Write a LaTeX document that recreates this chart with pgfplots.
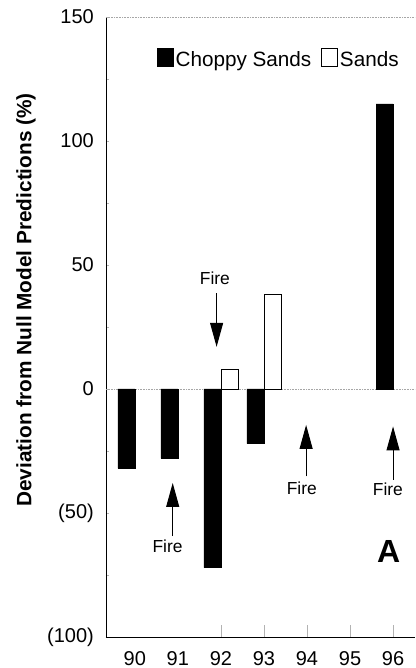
\documentclass[border=0pt]{standalone}
\usepackage{fontspec}
\setmainfont{Liberation Sans}
\usepackage{pgfplots}
\pgfplotsset{compat=1.18}
\usetikzlibrary{arrows.meta}
\begin{document}
\begin{tikzpicture}
\begin{axis}[
  at={(0,0)}, anchor=south west,
  scale only axis, width=309pt, height=620pt,
  xmin=89.33, xmax=96.51, ymin=-100, ymax=150,
  axis x line*=bottom, axis y line*=left,
  axis line style={line width=0.9pt, black},
  xtick={92,93,94,95,96}, xticklabels={92,93,94,95,96},
  extra x ticks={90,91}, extra x tick labels={90,91},
  extra x tick style={/pgfplots/major tick length=0pt, tick style={draw=none}},
  ytick={-100,-50,0,50,100,150}, yticklabels={(100),(50),0,50,100,150},
  minor ytick={-75,-25,25,75,125},
  tick align=inside,
  xtick style={gray!60, line width=0.7pt, /pgfplots/major tick length=12pt},
  ytick style={gray!60, line width=0.5pt, /pgfplots/major tick length=3pt, /pgfplots/minor tick length=3pt},
  /pgf/number format/assume math mode=true,
  tick label style={font=\fontsize{20}{24}\selectfont},
  xticklabel style={inner sep=0pt, anchor=north, yshift=-14pt},
  yticklabel style={inner sep=0pt, anchor=east, xshift=-12pt},
  ylabel={Deviation from Null Model Predictions (\%)},
  every axis y label/.style={at={(rel axis cs:0,0.5435)}, xshift=-80pt, rotate=90, anchor=center, font=\bfseries\fontsize{20.8}{24}\selectfont},
  legend columns=2,
  legend style={draw=none, fill=none, at={(rel axis cs:0.165,0.932)}, anchor=west, inner sep=0pt,
    font=\fontsize{20.7}{24}\selectfont,
    /tikz/every even column/.append style={column sep=8pt}},
]
\draw[gray!70, densely dotted, line width=0.6pt] (axis cs:89.33,0) -- (axis cs:96.51,0);
\draw[gray!70, densely dotted, line width=0.6pt] (rel axis cs:0,1) -- (rel axis cs:1,1);
\addplot[ybar, bar width=17pt, bar shift=-8.5pt, fill=black, draw=black,
  legend image code/.code={\draw[fill=black, draw=black] (0pt,-7pt) rectangle (16pt,11pt);}]
  coordinates {(90,-32) (91,-28) (92,-72) (93,-22) (96,115)};
\addlegendentry{Choppy Sands}
\addplot[ybar, bar width=17pt, bar shift=8.5pt, fill=white, draw=black, line width=0.6pt,
  legend image code/.code={\draw[fill=white, draw=black, line width=0.6pt] (0pt,-7pt) rectangle (16pt,11pt);}]
  coordinates {(92,8) (93,38)};
\addlegendentry{Sands}
\draw[line width=1pt, -{Triangle[width=13pt,length=24pt]}] (axis cs:91.9,38.7) -- (axis cs:91.9,17.0);
\draw[line width=1pt, -{Triangle[width=13pt,length=24pt]}] (axis cs:90.88,-59.3) -- (axis cs:90.88,-37.9);
\draw[line width=1pt, -{Triangle[width=13pt,length=24pt]}] (axis cs:93.98,-35.2) -- (axis cs:93.98,-14.5);
\draw[line width=1pt, -{Triangle[width=13pt,length=24pt]}] (axis cs:96.0,-36.5) -- (axis cs:96.0,-15.1);
\node[font=\fontsize{17.4}{20}\selectfont, inner sep=0pt] at (axis cs:91.86,44.8) {Fire};
\node[font=\fontsize{17.4}{20}\selectfont, inner sep=0pt] at (axis cs:90.76,-63.5) {Fire};
\node[font=\fontsize{17.4}{20}\selectfont, inner sep=0pt] at (axis cs:93.88,-39.9) {Fire};
\node[font=\fontsize{17.4}{20}\selectfont, inner sep=0pt] at (axis cs:95.88,-40.5) {Fire};
\node[font=\bfseries\fontsize{32}{36}\selectfont, inner sep=0pt] at (axis cs:95.9,-65.5) {A};
\end{axis}
\pgfresetboundingbox
\useasboundingbox (-106pt,-31pt) rectangle (309pt,637pt);
\end{tikzpicture}
\end{document}
